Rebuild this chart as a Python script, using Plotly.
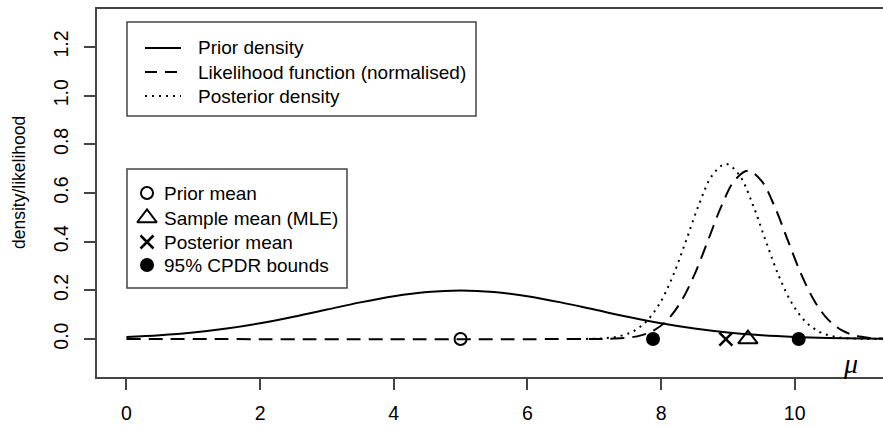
import plotly.graph_objects as go

# ---------------- data ----------------
prior_x = [0, 0.5, 1, 1.5, 2, 2.5, 3, 3.5, 4, 4.5, 5, 5.5, 6, 6.5, 7, 7.5, 8, 8.5, 9, 9.5, 10, 10.5, 11, 11.5]
prior_y = [0.0088, 0.0159, 0.0270, 0.0431, 0.0648, 0.0913, 0.1210, 0.1506, 0.1760, 0.1933, 0.1995,
           0.1933, 0.1760, 0.1506, 0.1210, 0.0913, 0.0648, 0.0431, 0.0270, 0.0159, 0.0088, 0.0045, 0.0022, 0.0010]

lik_x = [0, 7.1, 7.3, 7.5, 7.7, 7.9, 8.1, 8.3, 8.5, 8.7, 8.9, 9.1, 9.3, 9.5, 9.7, 9.9, 10.1, 10.3, 10.5,
         10.7, 10.9, 11.1, 11.3, 11.5]
lik_y = [0, 0.0005, 0.0017, 0.0054, 0.0149, 0.0366, 0.0797, 0.1543, 0.2647, 0.4029, 0.5439, 0.6512, 0.6914,
         0.6512, 0.5439, 0.4029, 0.2647, 0.1543, 0.0797, 0.0366, 0.0149, 0.0054, 0.0017, 0.0005]

post_x = [6.77, 6.97, 7.17, 7.37, 7.57, 7.77, 7.97, 8.17, 8.37, 8.57, 8.77, 8.97, 9.17, 9.37, 9.57, 9.77,
          9.97, 10.17, 10.37, 10.57, 10.77, 10.97, 11.17, 11.5]
post_y = [0.0003, 0.0011, 0.0037, 0.0112, 0.0298, 0.0693, 0.1416, 0.2542, 0.4007, 0.5546, 0.6740, 0.7192,
          0.6740, 0.5546, 0.4007, 0.2542, 0.1416, 0.0693, 0.0298, 0.0112, 0.0037, 0.0011, 0.0003, 0]

prior_mean = 5.0
sample_mean = 9.30
posterior_mean = 8.97
cpdr_bounds = [7.88, 10.06]

x_ticks = [0, 2, 4, 6, 8, 10]
y_ticks = [0.0, 0.2, 0.4, 0.6, 0.8, 1.0, 1.2]
y_tick_text = ["0.0", "0.2", "0.4", "0.6", "0.8", "1.0", "1.2"]

legend1 = ["Prior density", "Likelihood function (normalised)", "Posterior density"]
legend2 = ["Prior mean", "Sample mean (MLE)", "Posterior mean", "95% CPDR bounds"]

# ---------------- geometry ----------------
W, H = 883, 427
ML, MR, MT, MB = 97, 0, 9, 50
PW, PH = W - ML - MR, H - MT - MB
XR = [-0.44, -0.44 + PW / 66.83]
YR = [-0.156, 1.356]

def px2x(px):
    return XR[0] + (px - ML) / PW * (XR[1] - XR[0])

def py2y(py):
    return YR[1] - (py - MT) / PH * (YR[1] - YR[0])

def pxp(px):
    return (px - ML) / PW

def pyp(py):
    return (H - MB - py) / PH

FONT = "Liberation Sans, Arial, sans-serif"
BLK = "black"
AX = "#444444"
LFS = 19

fig = go.Figure()

# curves
fig.add_trace(go.Scatter(x=prior_x, y=prior_y, mode="lines", line=dict(color=BLK, width=2, shape="spline"),
                         hoverinfo="skip"))
fig.add_trace(go.Scatter(x=lik_x, y=lik_y, mode="lines",
                         line=dict(color=BLK, width=2, dash="14px,8px", shape="spline"), hoverinfo="skip"))
fig.add_trace(go.Scatter(x=post_x, y=post_y, mode="lines",
                         line=dict(color=BLK, width=2, dash="2px,5px", shape="spline"), hoverinfo="skip"))

# points
fig.add_trace(go.Scatter(x=[prior_mean], y=[0], mode="markers",
                         marker=dict(symbol="circle-open", size=12, color=BLK, line=dict(width=2, color=BLK))))
fig.add_trace(go.Scatter(x=[sample_mean], y=[0], mode="markers",
                         marker=dict(symbol="triangle-up-open", size=17, color=BLK, line=dict(width=2, color=BLK))))
fig.add_trace(go.Scatter(x=[posterior_mean], y=[0], mode="markers",
                         marker=dict(symbol="x-thin-open", size=13, color=BLK, line=dict(width=2.5, color=BLK))))
fig.add_trace(go.Scatter(x=cpdr_bounds, y=[0, 0], mode="markers",
                         marker=dict(symbol="circle", size=14, color=BLK, line=dict(width=0))))

shapes = []
annotations = []

# legend 1 box
shapes.append(dict(type="rect", xref="paper", yref="paper", x0=pxp(127), x1=pxp(476), y0=pyp(116), y1=pyp(22),
                   line=dict(color=AX, width=1.5), fillcolor="white", layer="below"))
rows1 = [48, 72, 96]
dashes = ["solid", "12px,8px", "2px,5px"]
for r, txt, d in zip(rows1, legend1, dashes):
    shapes.append(dict(type="line", xref="paper", yref="paper", x0=pxp(145), x1=pxp(181), y0=pyp(r), y1=pyp(r),
                       line=dict(color=BLK, width=2, dash=d)))
    annotations.append(dict(x=pxp(196), y=pyp(r), xref="paper", yref="paper", text=txt, showarrow=False,
                            xanchor="left", yanchor="middle", font=dict(family=FONT, size=LFS, color=BLK)))

# legend 2 box
shapes.append(dict(type="rect", xref="paper", yref="paper", x0=pxp(127), x1=pxp(347), y0=pyp(288), y1=pyp(169),
                   line=dict(color=AX, width=1.5), fillcolor="white", layer="below"))
rows2 = [193, 218, 242, 265]
syms = [("circle-open", 12, 2), ("triangle-up-open", 17, 2), ("x-thin-open", 13, 2.5), ("circle", 14, 0)]
for r, txt, (s, sz, lw) in zip(rows2, legend2, syms):
    fig.add_trace(go.Scatter(x=[px2x(147)], y=[py2y(r)], mode="markers",
                             marker=dict(symbol=s, size=sz, color=BLK, line=dict(width=lw, color=BLK)),
                             hoverinfo="skip"))
    annotations.append(dict(x=pxp(162), y=pyp(r), xref="paper", yref="paper", text=txt, showarrow=False,
                            xanchor="left", yanchor="middle", font=dict(family=FONT, size=LFS, color=BLK)))

# mu label
annotations.append(dict(x=10.84, y=-0.099, xref="x", yref="y", text="<i>μ</i>", showarrow=False,
                        xanchor="center", yanchor="middle",
                        font=dict(family="Liberation Serif, serif", size=28, color=BLK)))

# y axis title
annotations.append(dict(x=pxp(19), y=pyp(183), xref="paper", yref="paper", text="density/likelihood",
                        showarrow=False, textangle=-90, xanchor="center", yanchor="middle",
                        font=dict(family=FONT, size=17.5, color=BLK)))

fig.update_layout(
    width=W, height=H, margin=dict(l=ML, r=MR, t=MT, b=MB, pad=0),
    paper_bgcolor="white", plot_bgcolor="white", showlegend=False,
    shapes=shapes, annotations=annotations,
    xaxis=dict(range=XR, tickvals=x_ticks, ticktext=[str(t) for t in x_ticks], ticks="outside", ticklen=11,
               tickwidth=1.5, tickcolor=AX, showline=True, linecolor=AX, linewidth=1.5, mirror=True,
               showgrid=False, zeroline=False, ticklabelstandoff=7,
               tickfont=dict(family=FONT, size=19.5, color=BLK)),
    yaxis=dict(range=YR, tickvals=y_ticks, ticktext=y_tick_text, ticks="outside", ticklen=11, tickwidth=1.5,
               tickcolor=AX, showline=True, linecolor=AX, linewidth=1.5, showgrid=False, zeroline=False,
               tickangle=-90, ticklabelstandoff=8, tickfont=dict(family=FONT, size=19.5, color=BLK)),
)

fig.write_html("out.html")
